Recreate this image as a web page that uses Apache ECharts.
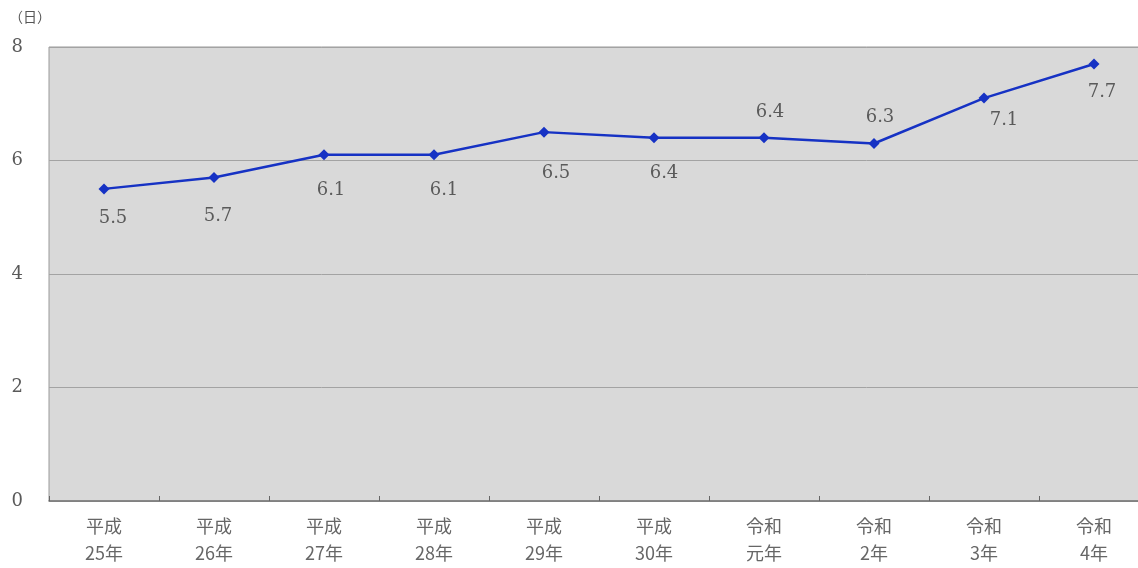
<!DOCTYPE html>
<html>
<head>
<meta charset="utf-8">
<script src="https://cdn.jsdelivr.net/npm/echarts@6/dist/echarts.min.js"></script>
<style>
  html, body { margin: 0; padding: 0; background: #fff; overflow: hidden; }
  #chart { width: 1138px; height: 568px; }
</style>
</head>
<body>
<div id="chart"></div>
<script>
// 年次カテゴリ
const categories = ['平成\n25年', '平成\n26年', '平成\n27年', '平成\n28年', '平成\n29年',
                    '平成\n30年', '令和\n元年', '令和\n2年', '令和\n3年', '令和\n4年'];
// 日数
const values = [5.5, 5.7, 6.1, 6.1, 6.5, 6.4, 6.4, 6.3, 7.1, 7.7];
// 各数値ラベルの点からのずれ [x, y]
const labelOffsets = [[9, 29], [4, 39], [7, 36], [10, 36], [12, 41],
                      [10, 36], [6, -25], [6, -26], [20, 22], [8, 28]];
const yTicks = [0, 2, 4, 6, 8];

const serif = '"DejaVu Serif", "Liberation Serif", serif';
const sans = '"Noto Sans CJK JP", sans-serif';

const chart = echarts.init(document.getElementById('chart'));
chart.setOption({
  animation: false,
  grid: {
    left: 49, right: -11, top: 47, bottom: 67,
    outerBoundsMode: 'none',
    containLabel: false,
    show: true, backgroundColor: '#d9d9d9', borderColor: '#9a9a9a', borderWidth: 1
  },
  graphic: [{
    type: 'text', left: 9, top: 10,
    style: { text: '（日）', font: '14px ' + sans, fill: '#555' }
  }],
  xAxis: {
    type: 'category',
    data: categories,
    boundaryGap: true,
    axisLine: { lineStyle: { color: '#777', width: 1.5 } },
    axisTick: { show: true, inside: true, length: 5, lineStyle: { color: '#666' } },
    axisLabel: { color: '#666', fontSize: 18, fontFamily: sans, lineHeight: 27, margin: 12 }
  },
  yAxis: {
    type: 'value',
    min: yTicks[0], max: yTicks[yTicks.length - 1], interval: 2,
    axisLine: { show: false },
    axisTick: { show: false },
    splitLine: { lineStyle: { color: '#a3a3a3', width: 1 } },
    axisLabel: { color: '#5a5a5a', fontSize: 18, fontFamily: serif, margin: 26, padding: [3, 0, 0, 0] }
  },
  series: [{
    type: 'line',
    data: values.map((v, i) => ({
      value: v,
      label: { offset: labelOffsets[i] }
    })),
    symbol: 'diamond',
    symbolSize: 11,
    lineStyle: { color: '#1632c4', width: 2.5 },
    itemStyle: { color: '#1632c4' },
    label: {
      show: true, position: 'inside', color: '#5a5a5a', fontSize: 18, fontFamily: serif,
      formatter: p => p.value.toFixed(1)
    }
  }]
});
</script>
</body>
</html>
